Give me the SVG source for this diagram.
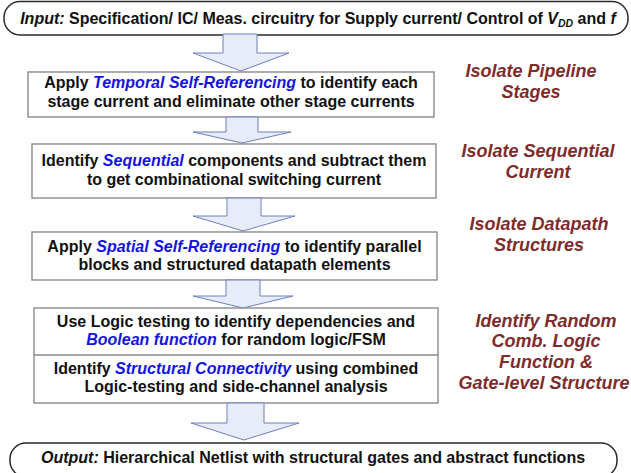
<svg xmlns="http://www.w3.org/2000/svg" width="631" height="473" viewBox="0 0 631 473">
  <defs>
    <style>
      .term { fill: #ffffff; stroke: #2b2b2b; stroke-width: 1.5; }
      .step { fill: #ffffff; stroke: #8a8a8a; stroke-width: 1.4; }
      .flow { fill: #e6ecf8; stroke: #6f7fbd; stroke-width: 1; stroke-linejoin: miter; }
      .t { font-family: "Liberation Sans", Arial, sans-serif; font-weight: bold; font-size: 16px; fill: #111111; text-anchor: middle; }
      .em { font-style: italic; fill: #1414e0; }
      .it { font-style: italic; }
      .goal { font-family: "Liberation Sans", Arial, sans-serif; font-weight: bold; font-style: italic; font-size: 18px; fill: #7e2c2c; text-anchor: middle; }
    </style>
  </defs>

  <!-- input terminal -->
  <g id="input">
    <rect class="term" x="4" y="1.5" width="624" height="33.5" rx="16" ry="16"/>
    <text class="t" x="318" y="24"><tspan class="it">Input:</tspan> Specification/ IC/ Meas. circuitry for Supply current/ Control of <tspan class="it">V</tspan><tspan class="it" font-size="10.5" dy="3">DD</tspan><tspan dy="-3"> and </tspan><tspan class="it">f</tspan></text>
  </g>

  <!-- step 1 -->
  <g id="temporal">
    <rect class="step" x="28" y="72" width="406" height="45"/>
    <text class="t" x="231" y="88">Apply <tspan class="em">Temporal Self-Referencing</tspan> to identify each</text>
    <text class="t" x="231" y="107">stage current and eliminate other stage currents</text>
  </g>

  <!-- step 2 -->
  <g id="sequential">
    <rect class="step" x="32" y="144" width="404" height="54"/>
    <text class="t" x="234" y="166">Identify <tspan class="em">Sequential</tspan> components and subtract them</text>
    <text class="t" x="234" y="185">to get combinational switching current</text>
  </g>

  <!-- step 3 -->
  <g id="spatial">
    <rect class="step" x="32" y="232" width="405" height="48"/>
    <text class="t" x="234.5" y="252">Apply <tspan class="em">Spatial Self-Referencing</tspan> to identify parallel</text>
    <text class="t" x="234.5" y="270">blocks and structured datapath elements</text>
  </g>

  <!-- step 4: logic testing + structural connectivity -->
  <g id="logic">
    <rect class="step" x="34" y="308" width="404" height="95"/>
    <line class="step" x1="34" y1="355" x2="438" y2="355"/>
    <text class="t" x="236" y="327">Use Logic testing to identify dependencies and</text>
    <text class="t" x="236" y="345"><tspan class="em">Boolean function</tspan> for random logic/FSM</text>
    <text class="t" x="236" y="374">Identify <tspan class="em">Structural Connectivity</tspan> using combined</text>
    <text class="t" x="236" y="392">Logic-testing and side-channel analysis</text>
  </g>

  <!-- output terminal -->
  <g id="output">
    <rect class="term" x="10" y="443" width="607" height="34" rx="16" ry="16"/>
    <text class="t" x="313" y="463"><tspan class="it">Output:</tspan> Hierarchical Netlist with structural gates and abstract functions</text>
  </g>

  <!-- block arrows between steps -->
  <g id="connectors">
    <polygon class="flow" points="223,34 257,34 257,53 289,53 241,71 193,53 223,53"/>
    <polygon class="flow" points="226,117 258,117 258,132 291,132 242,143 193,132 226,132"/>
    <polygon class="flow" points="227,198 261,198 261,216 295,216 243,231 193,216 227,216"/>
    <polygon class="flow" points="226,280 260,280 260,296 293,296 243,308 193,296 226,296"/>
    <polygon class="flow" points="227,403 264,403 264,423 299,423 244,440 191,423 227,423"/>
  </g>

  <!-- stage goals -->
  <g id="goal-pipeline">
    <text class="goal" x="531" y="77">Isolate Pipeline</text>
    <text class="goal" x="531" y="98">Stages</text>
  </g>
  <g id="goal-sequential">
    <text class="goal" x="538" y="157">Isolate Sequential</text>
    <text class="goal" x="538" y="178">Current</text>
  </g>
  <g id="goal-datapath">
    <text class="goal" x="539" y="230">Isolate Datapath</text>
    <text class="goal" x="539" y="251">Structures</text>
  </g>
  <g id="goal-logic">
    <text class="goal" x="546" y="327">Identify Random</text>
    <text class="goal" x="546" y="347">Comb. Logic</text>
    <text class="goal" x="546" y="368">Function &amp;</text>
    <text class="goal" x="544" y="389">Gate-level Structure</text>
  </g>
</svg>
